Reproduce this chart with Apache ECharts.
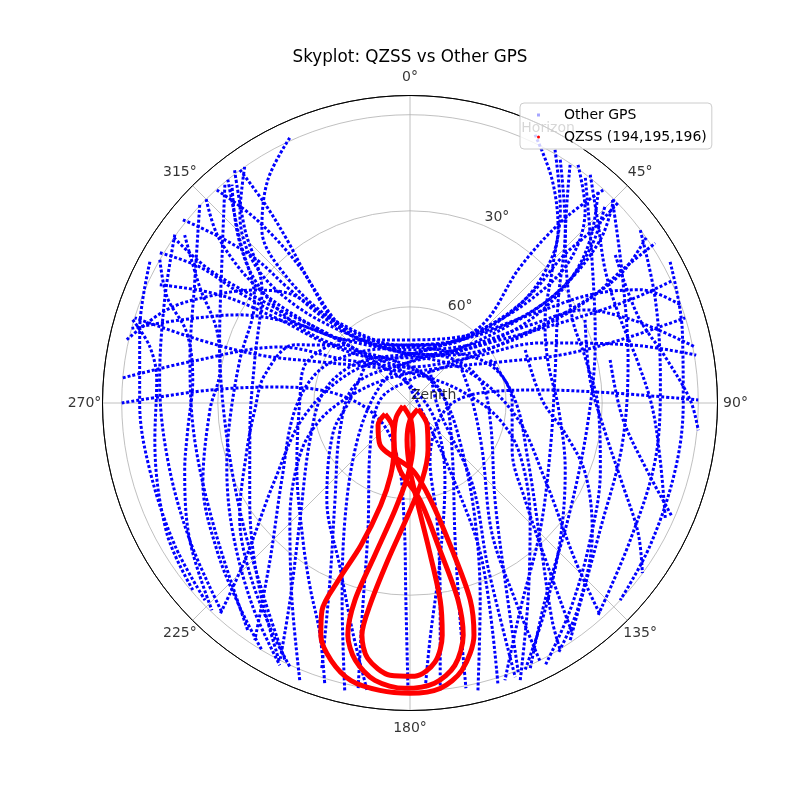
<!DOCTYPE html>
<html><head><meta charset="utf-8">
<script src="https://cdn.jsdelivr.net/npm/echarts@6/dist/echarts.min.js"></script>
<style>html,body{margin:0;padding:0;background:#fff}#c{width:800px;height:800px}</style>
</head><body><div id="c"></div>
<script>
// Each track: list of [azimuth (deg, clockwise from N), elevation (deg)]
const gpsT1 = [[25,-2.4],[32.5,7.4],[40.5,18.8],[46.6,34.1],[47.8,50],[38.4,64.9],[0,72.5],[315.6,67.7],[290.1,60],[266.5,54],[239,43.3],[221.7,24.3],[213.2,1.5]];
const gpsT2 = [[35.2,-1.0],[42.2,8.6],[48.2,22.9],[49.4,40.6],[43.8,58.4],[11.1,73.75],[309.4,69.8],[278.7,63.1],[249.7,56.7],[223.2,39.8],[211.3,17.9],[206.8,0]];
const gpsT3 = [[45,0],[49.4,11.8],[53,31.3],[52,50.4],[38.1,69.75],[345.3,77.7],[288.1,71.9],[248.9,66.6],[217.7,51.7],[204.3,29.3],[198.4,2.75]];
const gpsT4 = [[55,0],[58.6,13.2],[59.8,32.2],[57.8,53.1],[46.5,72.75],[0,82.8],[275.7,80.6],[220.4,70.7],[198.3,48.2],[192.5,20.6],[190.3,-0.5]];
const gpsT5 = [[65,0],[64.9,14.1],[62.6,33.7],[55,55.7],[32,72.3],[326.3,73.1],[305.9,59.1],[302.6,41.8],[299.6,21.7],[295.3,3.6]];
const gpsT6 = [[285,0],[289.8,13.6],[297.4,30.2],[305.3,47.9],[316.4,62.8],[0,70.3],[41.4,61.7],[53.7,43.5],[59,24.4],[63.8,9.9],[70,0.25]];
const gpsT7 = [[275,0],[280.6,20.1],[293.3,45.8],[304.3,66.2],[0,78.75],[53.9,65.6],[65.2,45.25],[75.2,18.9],[80.5,-0.6]];
const gpsT8 = [[335.6,-0.9],[327.5,7.4],[319.5,18.8],[315.7,34.1],[316.7,53.5],[333.4,69.0],[29.5,71.0],[64.6,62.3],[88.4,57.2],[115.8,49.1],[136.5,31.0],[146.8,9.0],[148.7,-0.3]];
const gpsT9 = [[325,0],[317.9,10.8],[311.7,25.2],[310.4,42.8],[318.6,61.7],[348.9,73.75],[41.6,71.2],[71.8,67.0],[102,64.4],[138.8,49.7],[151.8,27.2],[158.1,-0.6]];
const gpsT10 = [[315,0],[310.6,11.8],[307,31.3],[309,53.8],[325.1,73.6],[28.2,80.1],[85.1,79.0],[138.2,70.3],[161.8,44.9],[167,20.4],[168.9,-0.75]];
const gpsT11 = [[305,0],[303.6,14.9],[305,36.6],[310.4,57.2],[321.7,74.9],[0,84.4],[124.2,80.6],[155.6,63.6],[169.2,40.1],[175.2,15.7],[177,0.2]];
const gpsN1 = [[317.8,0.2],[320.1,15.5],[321.0,35.3],[317.4,57.7],[348.9,73.75],[59.0,70.0],[96.5,57.0],[119.7,41.4],[133.6,18.8],[138.1,1.0]];
const gpsN2 = [[323.9,-0.1],[323.9,14.2],[323,26.2],[320.1,42.75],[318.3,59.5],[339.3,72.3],[39.8,70.5],[57.2,56.5],[60.2,37.8],[59.8,24.2],[57.9,11.8],[56.9,-1.4]];
const gpsN3 = [[308.9,-1.1],[311.1,11.2],[313.1,24.6],[313.3,37.2],[315.4,54.4],[332.6,69.6],[27.4,69.6],[45.7,55.1],[48,39.6],[46.2,24.1],[46.5,11.5],[46.1,-0.2]];
const gpsN4 = [[301,-1.1],[302.9,11.8],[302.9,26.7],[304.7,44.4],[314.1,61.7],[0,73.4],[46,63.9],[57,45.3],[62,28.1],[67.9,18.5],[73.6,9.2],[78.9,-0.75]];
const gpsN5 = [[282.6,-0.6],[291,8.7],[297.6,18.4],[305.7,29.6],[311.8,38.4],[317.1,54.6],[350.2,71.6],[38.4,64.9],[52.3,46.6],[52.7,29.1],[49,14.7],[44.6,3.2]];
const gpsN7 = [[42.2,0.2],[39.9,15.5],[39.0,35.3],[42.6,57.7],[11.1,73.75],[301,70.0],[263.5,57.0],[240.3,41.4],[226.4,18.8],[221.9,1.0]];
const gpsW1 = [[298.5,-2.4],[285.1,2.6],[270,5.6],[255.5,6.1],[238.9,4.2],[226.1,1.2]];
const gpsW2 = [[305.6,-0.3],[292.8,6.9],[275.3,11.5],[256.7,12.3],[238.1,9.0],[222,2.2]];
const gpsW3 = [[313.3,-0.2],[299.8,12.6],[281.1,20.0],[260.2,21.8],[236.9,17.3],[215.5,2.8]];
const gpsW4 = [[319.7,0.65],[307.3,16.2],[288.3,27.4],[264.7,31.9],[237.8,27.2],[216.4,13.6],[205.9,0.7]];
const gpsW5 = [[323,-1],[316.4,15.3],[307.4,31.8],[285.5,39.7],[260.4,39.3],[238.8,31.5],[220.7,17.1],[206.7,-0.6]];
const gpsW7 = [[286.7,-0.4],[282.2,6.9],[275.2,10.6],[261.7,9.5],[241.9,3.9],[229.2,0.5]];
const gpsW8 = [[299.8,0],[293.6,7.2],[287.4,17.0],[276,21.8],[263.1,20.1],[253.4,16.6],[238.1,9.0],[223.7,0.5]];
const gpsW9 = [[306.7,2.25],[298.9,15.0],[290.7,25.5],[279.9,29.75],[268,27.5],[248.9,20.7],[232.7,14.2],[219.8,7.0],[210.9,0]];
const gpsW10 = [[320.8,0],[313.8,16.4],[303.6,31.8],[284.2,35.2],[264.6,33.5],[250.7,29.4],[233.7,21.4],[217.6,9.6],[206.4,-1.4]];
const gpsW11 = [[314,63.9],[296.8,49.75],[280.9,43.8],[267.4,41.5],[253.9,37.0],[236.2,26.0],[223.3,17.0],[210.8,6.3],[204.4,-0.6]];
const gpsW12 = [[305.9,59.1],[289.9,55.1],[271.6,55.6],[240.5,49.4],[218,35.7],[208.5,24.6],[201.4,12.8],[196.8,-2]];
const gpsW13 = [[320.2,70.5],[272.9,71.2],[248.7,64.2],[220.6,50.1],[203.1,34.3],[193.9,15.9],[188.5,-0.7]];
const gpsE1 = [[61.5,-2.4],[75,2.0],[90,4.7],[104.2,4.6],[120.6,2.85],[133.2,0]];
const gpsE2 = [[53.1,0.1],[67.2,6.9],[84.7,11.5],[103.1,11.4],[121.9,9.0],[138.4,1.5]];
const gpsE3 = [[44.9,0.5],[58.9,12.6],[78.8,20.6],[101.2,22.5],[123.8,18.6],[146,0.6]];
const gpsE4 = [[37.9,0.9],[51.8,17.7],[71.2,28.9],[95.5,34.1],[123.8,29.8],[145.6,15.4],[155.6,-0.9]];
const gpsE5 = [[31.7,0.75],[41.9,17.4],[55.2,33.65],[77.2,43.5],[108.6,43.8],[134.3,33.2],[152,16.75],[161.1,-1.5]];
const gpsNE1 = [[38.3,-0.8],[46.6,9.1],[55.7,16.25],[66.6,19.2],[80,17.7],[90.9,14.4],[102.8,9.9],[114.6,2.3]];
const gpsNE2 = [[54.2,11.0],[69.3,13.8],[79.8,9.0],[89.4,2.5],[95.4,-0.4]];
const gpsNE3 = [[33.9,0.4],[43.6,19.7],[62,32.7],[75.3,33.5],[91.2,31.25],[109.4,27.0],[127.3,19.3],[142.3,8.25],[152.7,-2.1]];
const gpsNE4 = [[29.8,-1.1],[37.9,13.6],[46.9,29.2],[59.3,41.0],[73.8,45.1],[91.5,43.7],[113.4,37.2],[132.4,26.5],[146.9,12.8],[156.7,-0.8]];
const gpsS1 = [[192.8,-2],[199,24.9],[209.1,48.2],[229.5,67.4],[274.5,78.1],[335.6,78.7],[22.6,73.75],[50.4,61.6],[55.3,44.4],[52.4,26.9],[47.8,14.1],[41.7,1.7]];
const gpsS2 = [[166.7,-2.2],[160.4,24.7],[150.9,48.2],[132.1,68.1],[85.1,79.0],[17.9,79.8],[330.9,73.9],[307.7,60.4],[304.7,44.4],[308.4,28.2],[314.3,14.9],[320.8,2.05]];
const gpsS3 = [[180.4,0.3],[181.2,28.4],[182.9,53.4],[191.9,71.8],[240.5,79.2],[276.5,68.0],[277,49.1],[273.7,27.4],[270,0]];
const gpsS4 = [[174,-0.2],[171.3,27.7],[167,52.5],[160.7,71.1],[101.3,78.8],[81.9,67.9],[84.3,49.2],[87.1,27.4],[89.4,0]];
const gpsS5 = [[201.7,-3.1],[210.9,18.25],[225.7,37.6],[244.7,52.0],[259.3,61.4],[277.9,71.7],[321.3,80],[40.6,75.6],[65.5,59.1],[72.3,40.8],[73.3,21.5],[72.8,0.06]];
const gpsS6 = [[158.3,-3.1],[149.1,18.25],[134.3,37.6],[115.3,52],[100.7,61.4],[82.1,71.7],[38.7,80],[319.4,75.6],[294.5,59.1],[287.7,40.8],[286.7,21.5],[287.2,0.06]];
const gpsSE1 = [[340.8,75.8],[133,83.6],[150.6,61.3],[155.4,36.0],[162.6,-1.7]];
const gpsSE2 = [[31.2,77.9],[98.1,81.2],[142.2,58.4],[154.6,33.25],[159,-1.7]];
const gpsSE3 = [[52.8,70.4],[87.2,70.6],[123.1,63.1],[147.8,42.0],[151.9,20.25],[153.3,-0.6]];
const gpsSE4 = [[61.7,61.6],[88.3,58.1],[114.7,54.9],[130.1,43.0],[139.9,23.0],[144.8,2.1]];
const gpsSE5 = [[65.3,50.4],[88.7,48.75],[101,40.7],[111.8,31.1],[125.5,20.1],[140.5,7.4],[149.4,-0.8]];
const gpsSE6 = [[64.6,29.5],[82.7,33.3],[98.7,28.3],[110.7,19.2],[119.7,8.0],[126.2,0.1]];
const gpsSE7 = [[77.9,26.1],[93.8,23.6],[105.2,13.9],[113.5,0.7]];

const gpsTracks = [gpsT1,gpsT2,gpsT3,gpsT4,gpsT5,gpsT6,gpsT7,gpsT8,gpsT9,gpsT10,gpsT11,
  gpsN1,gpsN2,gpsN3,gpsN4,gpsN5,gpsN7,
  gpsW1,gpsW2,gpsW3,gpsW4,gpsW5,gpsW7,gpsW8,gpsW9,gpsW10,gpsW11,gpsW12,gpsW13,
  gpsE1,gpsE2,gpsE3,gpsE4,gpsE5,gpsNE1,gpsNE2,gpsNE3,gpsNE4,
  gpsS1,gpsS2,gpsS3,gpsS4,gpsS5,gpsS6,gpsSE1,gpsSE2,gpsSE3,gpsSE4,gpsSE5,gpsSE6,gpsSE7];

const qzss194 = [[246,81.5],[214,80.6],[199,74.5],[195,66.7],[196,56.8],[199,43.0],[202,30.3],[203,19.7],[201,12.3],[197,5.9],[192,1.4],[186,-0.2],[180,-0.6],[174,0.4],[169,5.0],[164.6,14.8],[163,25.7],[164,42.2],[168,59.1],[178,69.1],[215.5,73.9],[235.5,77.9],[246,81.5]];
const qzss195 = [[247,87.6],[177,84.7],[176,76.8],[181.6,67.5],[188,56.2],[193,41.3],[195.6,26.1],[195,15.0],[192,7.9],[187.2,2.7],[181,0.9],[175,2.2],[170.3,6.9],[167.1,15.6],[166.3,26.6],[168.5,43.1],[174.1,59.5],[188.5,68.8],[203.4,77.4],[223,83.6],[247,87.6]];
const qzss196 = [[127,86.9],[142,81.3],[159,74.3],[171,65.7],[181,55.0],[188,40.5],[191.2,25.7],[191.7,16.0],[189.4,9.2],[184.2,4.8],[179,4.7],[174.5,8.7],[172.1,16.8],[171.3,27.7],[172.8,45.3],[175.5,58.0],[180,69.1],[184.6,78.4],[180,84.7],[127,86.9]];
const qzssTracks = [qzss194, qzss195, qzss196];

const angleTickValues = [0,45,90,135,180,225,270,315];
const radialTickValues = [0,30,60,90];            // zenith distance
const radialTickLabels = ['Zenith','60°','30°','Horizon'];
const radialLabelAzimuth = 22.5;

const FONT = 'DejaVu Sans';
const RIM = 307.5;          // px radius of plot rim
const LABEL_POLAR_R = 340;  // px radius of helper polar used for angle labels
const toPolar = tr => tr.map(p => [90 - p[1], p[0]]);

const series = [];
gpsTracks.forEach(tr => series.push({
  type:'line', name:'Other GPS', coordinateSystem:'polar', polarIndex:0, data: toPolar(tr),
  smooth:0.35, symbol:'none', showSymbol:false, silent:true, z:2,
  lineStyle:{color:'#0000ff', width:3, type:[3,2]}, itemStyle:{color:'#0000ff'}
}));
qzssTracks.forEach(tr => series.push({
  type:'line', name:'QZSS (194,195,196)', coordinateSystem:'polar', polarIndex:0, data: toPolar(tr),
  smooth:0.3, symbol:'none', showSymbol:false, silent:true, z:3,
  lineStyle:{color:'#ff0000', width:5}, itemStyle:{color:'#ff0000'}
}));
series.push({
  type:'scatter', coordinateSystem:'polar', polarIndex:0, silent:true, z:3, symbolSize:0,
  data: radialTickValues.map((v,i)=>({value:[v, radialLabelAzimuth], label:{formatter: radialTickLabels[i]}})),
  label:{show:true, position:[1,-1], align:'left', verticalAlign:'bottom', fontSize:14, color:'#000', fontFamily:FONT}
});
series.push({
  type:'scatter', coordinateSystem:'polar', polarIndex:1, silent:true, z:3, symbolSize:0,
  data: angleTickValues.map(v=>({value:[RIM + 18, v], label:{formatter: v + '°'}})),
  label:{show:true, position:[0,0], align:'center', verticalAlign:'middle', fontSize:14, color:'#000', fontFamily:FONT}
});

const chart = echarts.init(document.getElementById('c'), null, {renderer:'canvas'});
chart.setOption({
  animation:false,
  backgroundColor:'#ffffff',
  title:{text:'Skyplot: QZSS vs Other GPS', left:405, top:44, textAlign:'center',
    textStyle:{fontFamily:FONT, fontSize:16.8, fontWeight:'normal', color:'#000'}},
  legend:{left:520, top:103, orient:'vertical', itemWidth:3, itemHeight:3, itemGap:8,
    padding:[5,5,5,17], backgroundColor:'rgba(255,255,255,0.8)', borderColor:'#cccccc', borderWidth:1, borderRadius:4,
    selectedMode:false, z:5,
    textStyle:{fontSize:14, color:'#000', fontFamily:FONT, padding:[0,0,0,19]},
    data:[{name:'Other GPS', icon:'rect', itemStyle:{color:'rgba(0,0,255,0.35)'}},
          {name:'QZSS (194,195,196)', icon:'circle', itemStyle:{color:'#ff0000'}}]},
  polar:[{center:[410,403], radius:RIM}, {center:[410,403], radius:LABEL_POLAR_R}],
  angleAxis:[
    {polarIndex:0, type:'value', min:0, max:360, interval:45, startAngle:90, clockwise:true,
      axisLine:{show:true, lineStyle:{color:'#000', width:1}},
      axisTick:{show:false}, axisLabel:{show:false},
      splitLine:{show:true, lineStyle:{color:'#b0b0b0', width:0.8}}},
    {polarIndex:1, type:'value', min:0, max:360, startAngle:90, clockwise:true,
      axisLine:{show:false}, axisTick:{show:false}, axisLabel:{show:false}, splitLine:{show:false}}
  ],
  radiusAxis:[
    {polarIndex:0, type:'value', min:0, max:96, interval:30,
      axisLine:{show:false}, axisTick:{show:false}, axisLabel:{show:false},
      splitLine:{show:true, lineStyle:{color:['#b0b0b0','#b0b0b0','#b0b0b0','#b0b0b0','#000000'], width:0.8}}},
    {polarIndex:1, type:'value', min:0, max:LABEL_POLAR_R,
      axisLine:{show:false}, axisTick:{show:false}, axisLabel:{show:false}, splitLine:{show:false}}
  ],
  series: series
});
</script></body></html>
